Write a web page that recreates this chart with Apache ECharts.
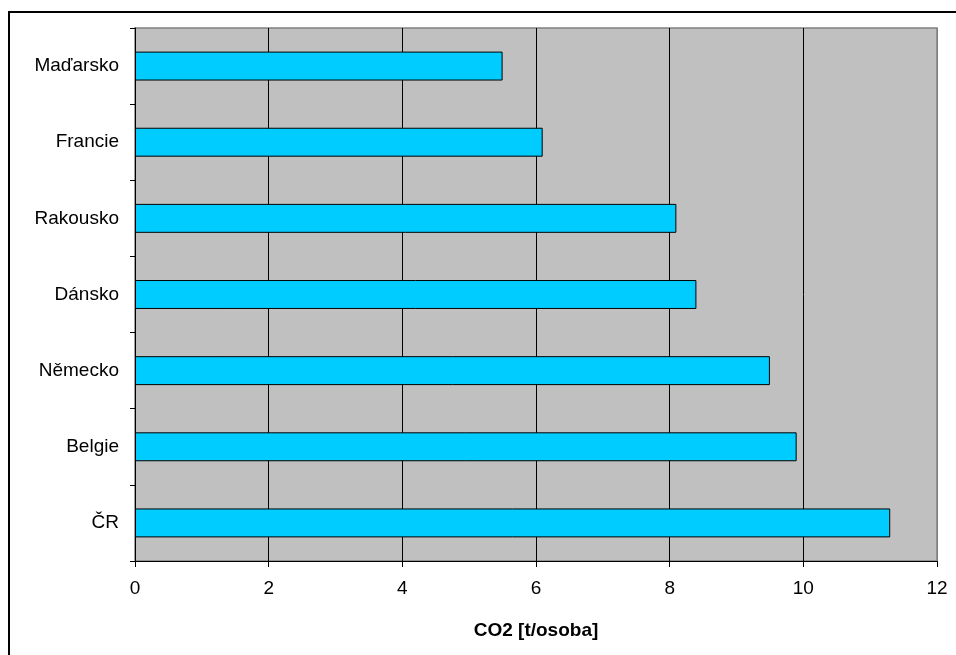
<!DOCTYPE html>
<html>
<head>
<meta charset="utf-8">
<script src="https://cdn.jsdelivr.net/npm/echarts@6/dist/echarts.min.js"></script>
<style>
html,body{margin:0;padding:0;background:#fff;overflow:hidden;}
#frame{position:absolute;left:8px;top:11px;width:1000px;height:700px;border:2px solid #000;box-sizing:border-box;}
#chart{position:absolute;left:0;top:0;width:956px;height:655px;}
</style>
</head>
<body>
<div id="frame"></div>
<div id="chart"></div>
<script>
const categories = ['ČR', 'Belgie', 'Německo', 'Dánsko', 'Rakousko', 'Francie', 'Maďarsko'];
const values = [11.3, 9.9, 9.5, 8.4, 8.1, 6.1, 5.5];
const axisTitle = 'CO2 [t/osoba]';

const chart = echarts.init(document.getElementById('chart'), null, {renderer: 'canvas'});
const font = 'Liberation Sans, Arial, sans-serif';
chart.setOption({
  animation: false,
  grid: {
    left: 135, top: 28, right: 19, bottom: 94,
    show: true, backgroundColor: '#C0C0C0', borderColor: '#808080', borderWidth: 1.5
  },
  xAxis: {
    type: 'value', min: 0, max: 12, interval: 2,
    name: axisTitle, nameLocation: 'middle', nameGap: 60,
    nameTextStyle: {fontFamily: font, fontSize: 19, fontWeight: 'bold', color: '#000'},
    axisLine: {show: true, lineStyle: {color: '#000', width: 1}},
    axisTick: {show: true, length: 6, lineStyle: {color: '#000'}},
    axisLabel: {fontFamily: font, fontSize: 19, color: '#000', margin: 18},
    splitLine: {show: true, lineStyle: {color: ['#000','#000','#000','#000','#000','#000','#808080'], width: 1}}
  },
  yAxis: {
    type: 'category', data: categories,
    axisLine: {show: true, lineStyle: {color: '#000', width: 1}},
    axisTick: {show: true, length: 5, lineStyle: {color: '#000'}},
    axisLabel: {fontFamily: font, fontSize: 19, color: '#000', margin: 16},
    splitLine: {show: false}
  },
  series: [{
    type: 'bar', data: values, barCategoryGap: '62%',
    itemStyle: {color: '#00CCFF', borderColor: '#000', borderWidth: 1}
  }]
});
</script>
</body>
</html>
